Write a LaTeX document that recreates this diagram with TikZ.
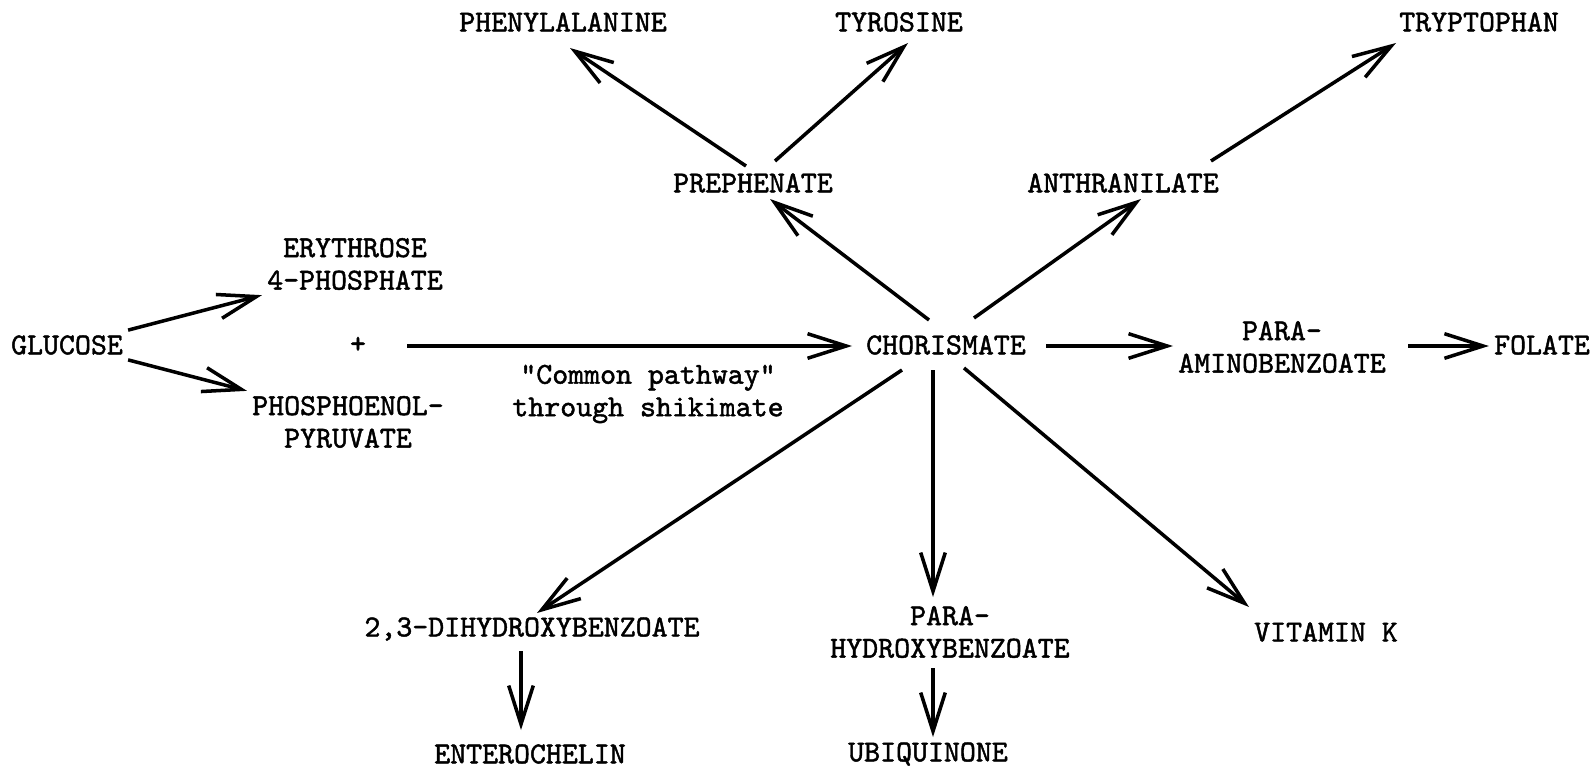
\documentclass[tikz,border=0pt]{standalone}
\usepackage{fontspec}
\setmonofont{lmmono10-regular}[Extension=.otf, FakeBold=1.5]
\usetikzlibrary{arrows.meta, calc}

\begin{document}
\begin{tikzpicture}[x=0.02cm, y=-0.02cm, line width=2pt,
    >={Straight Barb[length=22pt, width=14pt]},
    every node/.style={font=\ttfamily\fontsize{17.3}{18.5}\selectfont,
      align=center, inner sep=2pt}]

    \fill[white] (0,0) rectangle (1595,767);
    \useasboundingbox (0,0) rectangle (1595,767);

    \node (phe) at (563,22) {PHENYLALANINE};
    \node (tyr) at (899,22) {TYROSINE};
    \node (trp) at (1479,22) {TRYPTOPHAN};

    \node (prephenate) at (753,183) {PREPHENATE};
    \node (anthranilate) at (1123,183) {ANTHRANILATE};

    \node (erythrose) at (355,264) {ERYTHROSE\\4-PHOSPHATE};
    \node (glucose) at (67,345) {GLUCOSE};
    \node (plus) at (358,345) {+};
    \node (pep) at (348,422) {PHOSPHOENOL-\\PYRUVATE};
    \node (common) at (648,394) {"Common pathway"\\through shikimate};

    \node (chorismate) at (946,345) {CHORISMATE};
    \node (pab) at (1282,347) {PARA-\\AMINOBENZOATE};
    \node (folate) at (1542,345) {FOLATE};

    \node (dhb) at (532,629) {2,3-DIHYDROXYBENZOATE};
    \node (phb) at (950,632) {PARA-\\HYDROXYBENZOATE};
    \node (vitk) at (1326,632) {VITAMIN K};

    \node (entero) at (530,754) {ENTEROCHELIN};
    \node (ubiq) at (928,754) {UBIQUINONE};

    \draw[->] (glucose.north east) -- (erythrose.south west);
    \draw[->] (glucose.south east) -- (pep.north west);
    \draw[->] ($(plus)+(49,1)$) -- ($(chorismate)+(-94,1)$);

    \draw[->] ($(chorismate)+(-17,-25)$) -- ($(prephenate)+(17,16)$);
    \draw[->] ($(prephenate)+(-7,-17)$) -- ($(phe)+(7,26)$);
    \draw[->] ($(prephenate)+(22,-22)$) -- ($(tyr)+(9,21)$);

    \draw[->] ($(chorismate)+(28,-27)$) -- ($(anthranilate)+(18,16)$);
    \draw[->] ($(anthranilate)+(88,-22)$) -- ($(trp)+(-83,21)$);

    \draw[->] ($(chorismate.east)+(15,1)$) -- ($(pab.west)+(0,-1)$);
    \draw[->] ($(pab.east)+(17,-1)$) -- ($(folate.west)+(0,1)$);

    \draw[->] ($(chorismate)+(-44,25)$) -- ($(dhb)+(5,-16)$);
    \draw[->] ($(chorismate)+(-13,25)$) -- ($(phb)+(-17,-35)$);
    \draw[->] ($(chorismate)+(18,23)$) -- ($(vitk)+(-77,-25)$);

    \draw[->] ($(dhb)+(-11,22)$) -- ($(entero)+(-9,-24)$);
    \draw[->] ($(phb)+(-17,36)$) -- ($(ubiq)+(5,-17)$);
\end{tikzpicture}
\end{document}
